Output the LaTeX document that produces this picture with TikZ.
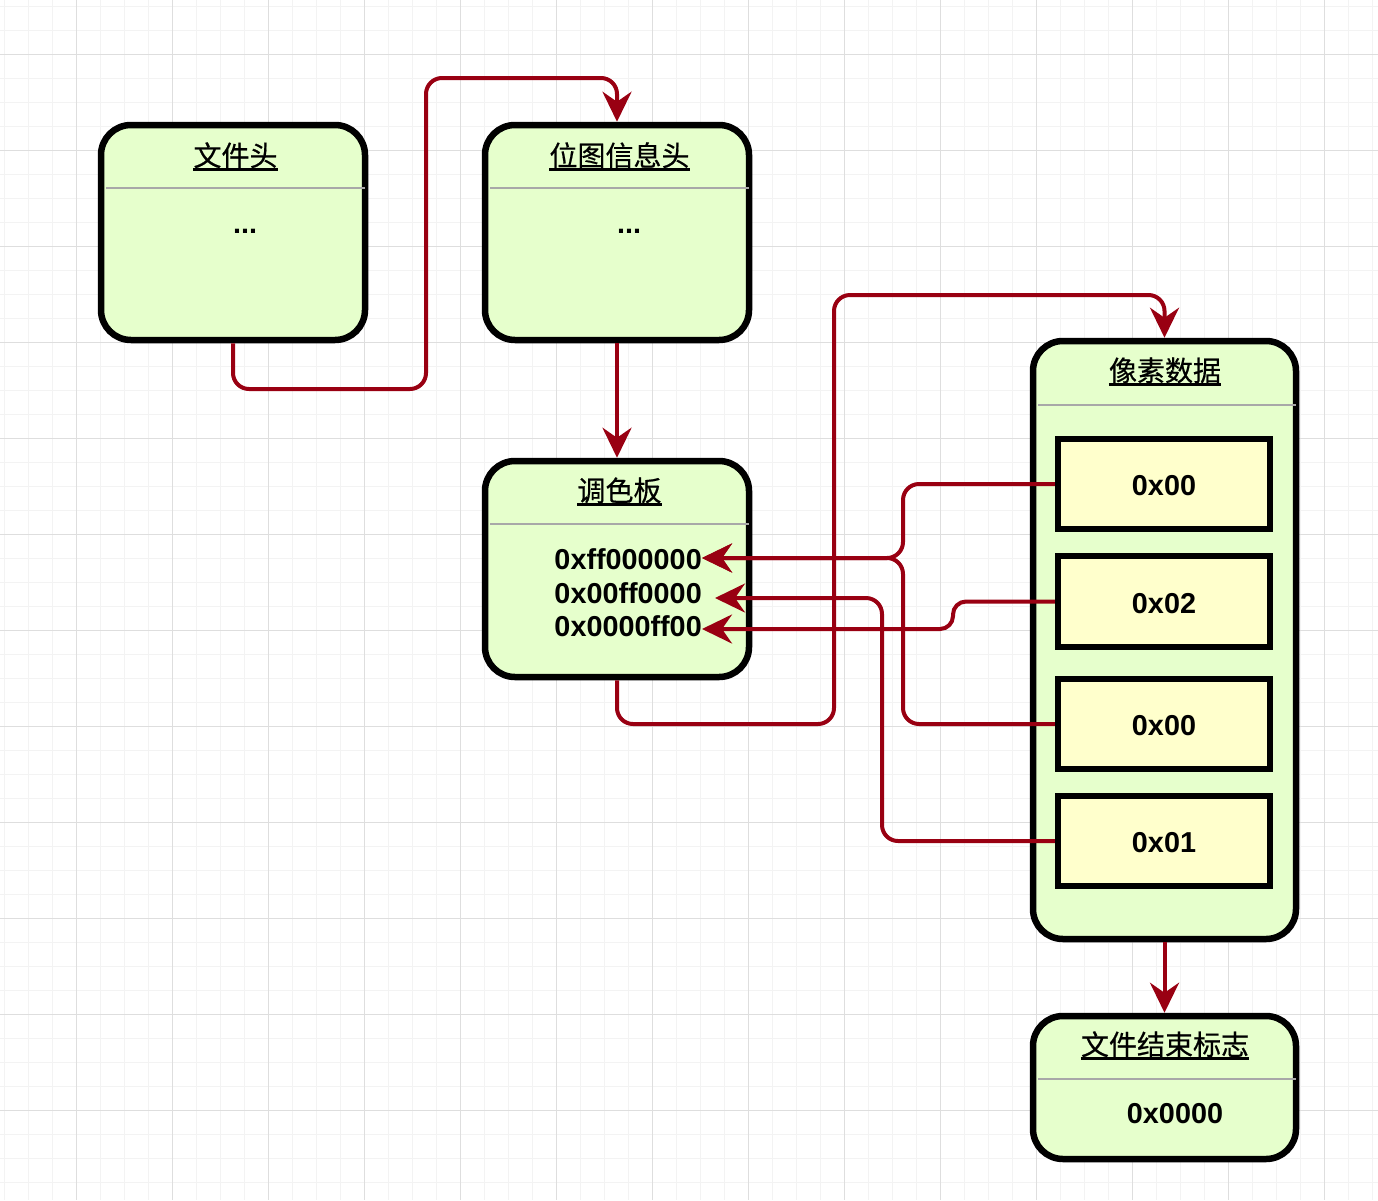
\documentclass[tikz,border=0pt]{standalone}
\usepackage{fontspec}
\setmainfont{Liberation Sans}
\newfontfamily\cjk[FakeBold=0.5]{Noto Sans CJK SC}
\usetikzlibrary{arrows.meta}
\definecolor{boxgreen}{HTML}{E6FFCC}
\definecolor{cellyellow}{HTML}{FFFFCC}
\definecolor{connred}{HTML}{990012}
\definecolor{gridminor}{HTML}{F3F3F3}
\definecolor{gridmajor}{HTML}{DEDEDE}
\definecolor{sepgray}{HTML}{A8A8A8}
\tikzset{
  box/.style={draw=black, line width=6.5pt, fill=boxgreen, rounded corners=30pt, inner sep=0pt},
  cell/.style={draw=black, line width=6.5pt, fill=cellyellow, inner sep=0pt, minimum width=212pt, minimum height=90pt},
  title/.style={inner sep=0pt, anchor=base, font=\cjk\fontsize{28}{30}\selectfont},
  uline/.style={line width=2.2pt, black},
  hex/.style={inner sep=0pt, font=\bfseries\fontsize{28.8}{30}\selectfont},
  sep/.style={line width=2.5pt, sepgray},
  conn/.style={draw=connred, line width=4pt, rounded corners=16pt,
    -{Stealth[length=30pt, width=29pt, inset=10pt, fill=connred]}},
}
\begin{document}
\begin{tikzpicture}[x=1pt, y=-1pt]
\useasboundingbox (0,0) rectangle (1378,1200);
\fill[white] (0,0) rectangle (1378,1200);
% grid
\foreach \gx in {4,28,...,1378} \draw[gridminor, line width=1pt] (\gx,0) -- (\gx,1200);
\foreach \gy in {6,30,...,1200} \draw[gridminor, line width=1pt] (0,\gy) -- (1378,\gy);
\foreach \gx in {76,172,...,1378} \draw[gridmajor, line width=1pt] (\gx,0) -- (\gx,1200);
\foreach \gy in {54,150,...,1200} \draw[gridmajor, line width=1pt] (0,\gy) -- (1378,\gy);

% boxes
\node[box, minimum width=264pt, minimum height=215pt] (fh) at (233,232.5) {};
\node[box, minimum width=264pt, minimum height=215pt] (bih) at (617,232.5) {};
\node[box, minimum width=264pt, minimum height=216pt] (pal) at (617,569) {};
\node[box, minimum width=263pt, minimum height=598pt] (pd) at (1164.5,640) {};
\node[box, minimum width=263pt, minimum height=143pt] (eof) at (1164.5,1087.5) {};

% separators
\draw[sep] (106,188) -- (365,188);
\draw[sep] (490,188) -- (749,188);
\draw[sep] (490,524) -- (749,524);
\draw[sep] (1038,405) -- (1296,405);
\draw[sep] (1038,1079) -- (1296,1079);

% titles
\node[title] (t1) at (235.5,166) {文件头};
\node[title] (t2) at (619.5,166) {位图信息头};
\node[title] (t3) at (619.5,501) {调色板};
\node[title] (t4) at (1165,381) {像素数据};
\node[title] (t5) at (1165,1055) {文件结束标志};
\foreach \t in {t1,t2,t3,t4,t5}
  \draw[uline] ([shift={(0,3.5)}]\t.base west) -- ([shift={(0,3.5)}]\t.base east);

% contents
\node[hex, anchor=base] (d1) at (245,233) {...};
\node[hex, anchor=base] (d2) at (629,233) {...};
\node[hex, anchor=east] (p1) at (702,559.5) {0xff000000};
\node[hex, anchor=east] (p2) at (702,593) {0x00ff0000};
\node[hex, anchor=east] (p3) at (702,626.5) {0x0000ff00};
\node[hex] (e1) at (1175,1114) {0x0000};

% cells
\node[cell] (c1) at (1164,484) {};
\node[cell, minimum height=91pt] (c2) at (1164,601.5) {};
\node[cell] (c3) at (1164,724) {};
\node[cell] (c4) at (1164,841) {};
\node[hex] at ([shift={(0,2)}]c1.center) {0x00};
\node[hex] at ([shift={(0,2)}]c2.center) {0x02};
\node[hex] at ([shift={(0,2)}]c3.center) {0x00};
\node[hex] at ([shift={(0,2)}]c4.center) {0x01};

% connectors
\draw[conn] (fh.south) |- (426,389) -- (426,78) -| (bih.north);
\draw[conn] (bih.south) -- (pal.north);
\draw[conn] (pal.south) |- (834,724) -- (834,295) -| (pd.north);
\draw[conn] (c1.west) -| (903,558) -- ([shift={(0,-1.5)}]p1.east);
\draw[conn, rounded corners=13pt] (c2.west) -| (953,629) -- ([shift={(0,2.5)}]p3.east);
\draw[conn] (c3.west) -| (903,558) -- ([shift={(0,-1.5)}]p1.east);
\draw[conn] (c4.west) -| (882,598) -- ([shift={(13,5)}]p2.east);
\draw[conn] (pd.south) -- (eof.north);
\end{tikzpicture}
\end{document}
